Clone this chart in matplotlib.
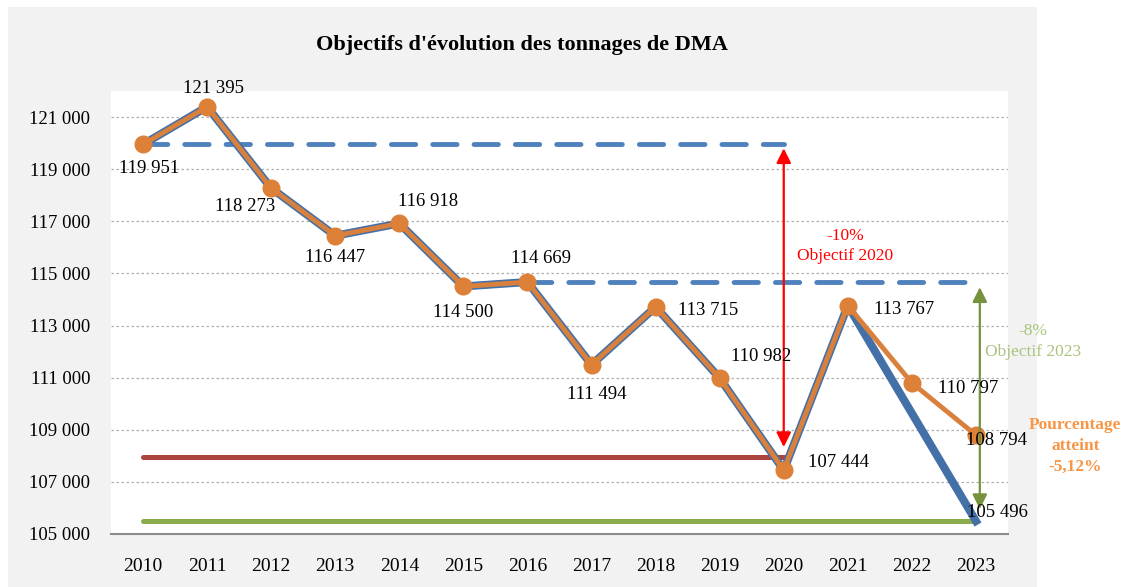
import numpy as np
import matplotlib.pyplot as plt
from matplotlib.patches import Rectangle

plt.rcParams['font.family'] = ['Liberation Serif', 'DejaVu Serif']

# data
years = ['2010', '2011', '2012', '2013', '2014', '2015', '2016',
         '2017', '2018', '2019', '2020', '2021', '2022', '2023']
tonnages = [119951, 121395, 118273, 116447, 116918, 114500, 114669,
            111494, 113715, 110982, 107444, 113767, 110797, 108794]
# trajectory to the 2023 objective (no 2022 point)
traj_years = ['2010', '2011', '2012', '2013', '2014', '2015', '2016',
              '2017', '2018', '2019', '2020', '2021', '2023']
traj_values = [119951, 121395, 118273, 116447, 116918, 114500, 114669,
               111494, 113715, 110982, 107444, 113767, 105496]
ref_2020 = 119951
obj_2020 = 107956   # -10 %
ref_2023 = 114669
obj_2023 = 105496   # -8 %

# label offsets in pixels (dx, dy) for the orange series
label_offsets = [(6, -24), (6, 18), (-26, -18), (0, -22), (29, 22), (0, -26), (14, 24),
                 (5, -30), (53, -4), (41, 22), (55, 8), (56, -4), (56, -6), (21, -5)]

def fmt(v):
    return f'{v:,}'.replace(',', ' ')

xi = {y: i for i, y in enumerate(years)}

fig = plt.figure(figsize=(11.26, 5.87), dpi=100)
fig.patch.set_facecolor('white')
fig.patches.append(Rectangle((8 / 1126, 0), (1037 - 8) / 1126, 1 - 7 / 587,
                             transform=fig.transFigure, facecolor='#f2f2f2',
                             edgecolor='none', zorder=-10))
ax = fig.add_axes([111 / 1126, 53 / 587, (1008 - 111) / 1126, (496 - 53) / 587])
ax.set_facecolor('white')

ax.set_xlim(-0.5, 13.5)
ax.set_ylim(105000, 122000)
ax.set_yticks(np.arange(105000, 121001, 2000))
ax.set_yticklabels([fmt(v) for v in range(105000, 121001, 2000)], fontsize=13.5)
ax.set_xticks(range(len(years)))
ax.set_xticklabels(years, fontsize=14)
ax.tick_params(axis='both', length=0)
ax.tick_params(axis='y', pad=15)
ax.tick_params(axis='x', pad=17)
ax.grid(axis='y', color='#b0b0b0', linestyle=(0, (2, 2)), linewidth=0.9)
ax.set_axisbelow(True)
for s in ['top', 'left', 'right']:
    ax.spines[s].set_visible(False)
ax.spines['bottom'].set_color('#8c8c8c')
ax.spines['bottom'].set_linewidth(1.5)

# objective lines
ax.plot([xi['2010'], xi['2020']], [ref_2020, ref_2020], color='#4f81bd', lw=3.5,
        linestyle=(0, (5, 3.5)), dash_capstyle='round', zorder=2)
ax.plot([xi['2016'], xi['2023']], [ref_2023, ref_2023], color='#4f81bd', lw=3.5,
        linestyle=(0, (5, 3.5)), dash_capstyle='round', zorder=2)
ax.plot([xi['2010'], xi['2020']], [obj_2020, obj_2020], color='#a9443f', lw=3.6,
        solid_capstyle='round', zorder=2)
ax.plot([xi['2010'], xi['2023']], [obj_2023, obj_2023], color='#8aab4c', lw=3.6,
        solid_capstyle='round', zorder=2)

# series
ax.plot([xi[y] for y in traj_years], traj_values, color='#4470a8', lw=5.8, zorder=3)
ax.plot(range(len(years)), tonnages, color='#d9813c', lw=3.5, marker='o',
        markersize=12, markerfacecolor='#dd8038', markeredgecolor='#dd8038', zorder=4)

px = 72 / 100
for i, (v, (dx, dy)) in enumerate(zip(tonnages, label_offsets)):
    ax.annotate(fmt(v), (i, v), xytext=(dx * px, dy * px), textcoords='offset points',
                ha='center', va='center', fontsize=13.5, zorder=6)
ax.annotate(fmt(traj_values[-1]), (xi['2023'], traj_values[-1]), xytext=(21 * px, 9 * px),
            textcoords='offset points', ha='center', va='center', fontsize=13.5, zorder=6)

# arrows
ax.annotate('', xy=(10, obj_2020 + 380), xytext=(10, ref_2020 - 150),
            arrowprops=dict(arrowstyle='<|-|>', color='#ff0000', lw=1.6,
                            mutation_scale=22, shrinkA=0, shrinkB=0), zorder=5)
ax.annotate('', xy=(13.06, obj_2023 + 460), xytext=(13.06, ref_2023 - 200),
            arrowprops=dict(arrowstyle='<|-|>', color='#76923c', lw=1.6,
                            mutation_scale=22, shrinkA=0, shrinkB=0),
            annotation_clip=False, zorder=5)

ax.text(10.96, 116040, '-10%\nObjectif 2020', color='#ff0000', ha='center', va='center',
        fontsize=12.5, linespacing=1.35)
ax.text(13.89, 112385, '-8%\nObjectif 2023', color='#a9c47f', ha='center', va='center',
        fontsize=12.5, linespacing=1.35, clip_on=False)
ax.text(14.55, 108385, 'Pourcentage\natteint\n-5,12%', color='#f79646', ha='center',
        va='center', fontsize=12.5, fontweight='bold', linespacing=1.4, clip_on=False)

fig.text(522 / 1126, 1 - 45 / 587, "Objectifs d'évolution des tonnages de DMA",
         ha='center', va='center', fontsize=16, fontweight='bold')

fig.savefig('out.png', dpi=100)
